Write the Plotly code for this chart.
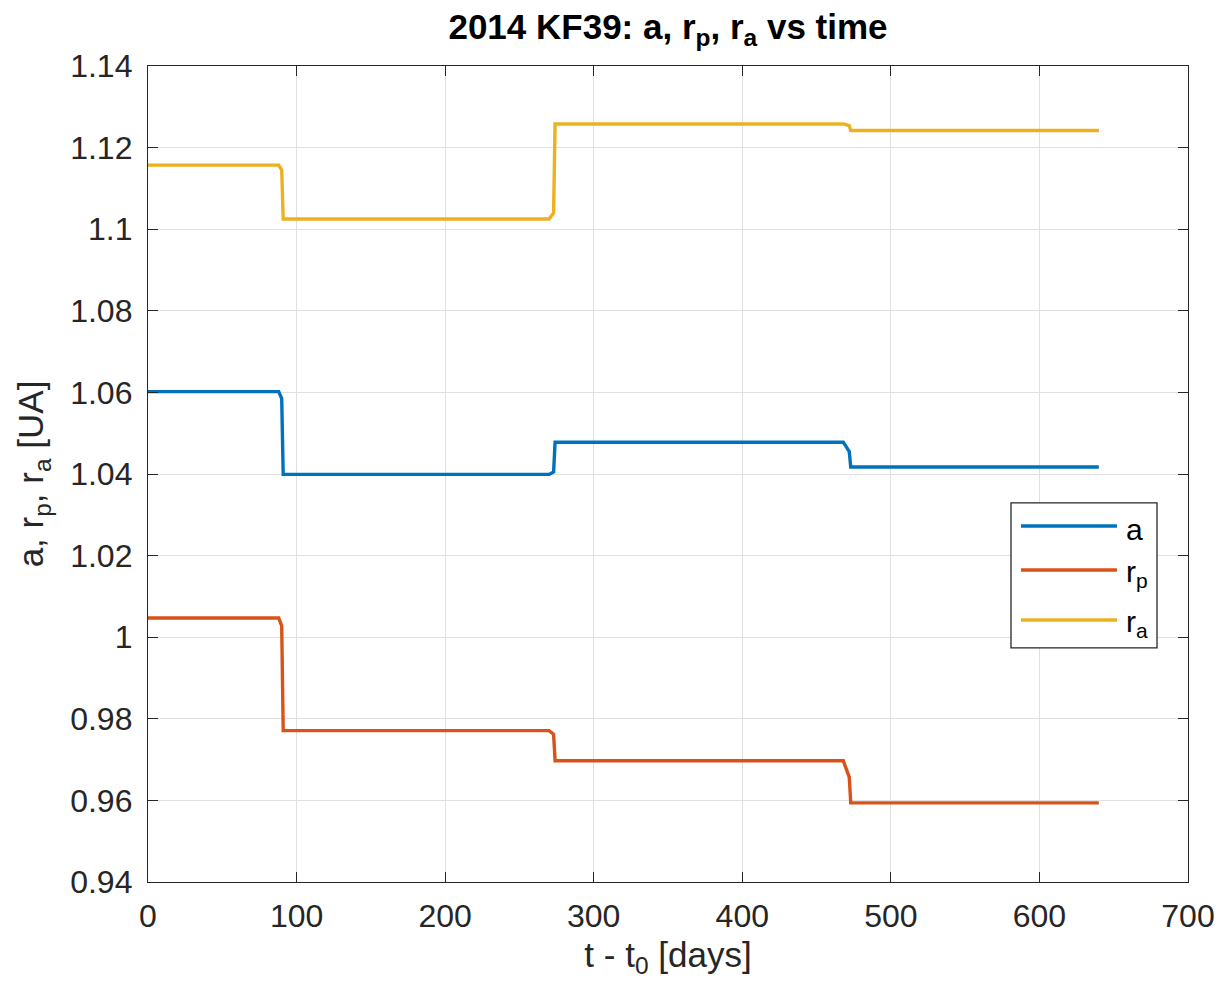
import plotly.graph_objects as go

# Orbital elements of 2014 KF39 over the propagation span
t_days = [0, 88, 90, 91, 270, 273, 274, 468, 472, 473, 640]
a_ua = [1.0602, 1.0602, 1.0585, 1.0399, 1.0399, 1.0405, 1.0478, 1.0478, 1.0455, 1.0417, 1.0417]
rp_ua = [1.0047, 1.0047, 1.0028, 0.9771, 0.9771, 0.9762, 0.9697, 0.9697, 0.9657, 0.9594, 0.9594]
ra_ua = [1.1157, 1.1157, 1.1145, 1.1025, 1.1025, 1.1040, 1.1258, 1.1258, 1.1254, 1.1242, 1.1242]

series_names = ["a", "r<sub>p</sub>", "r<sub>a</sub>"]
series_colors = ["#0072BD", "#D95319", "#EDB120"]

x_ticks = [0, 100, 200, 300, 400, 500, 600, 700]
y_ticks = [0.94, 0.96, 0.98, 1.0, 1.02, 1.04, 1.06, 1.08, 1.1, 1.12, 1.14]
y_tick_text = ["0.94", "0.96", "0.98", "1", "1.02", "1.04", "1.06", "1.08", "1.1", "1.12", "1.14"]

FONT = "Liberation Sans, Arial, Helvetica, sans-serif"
INK = "#262626"

fig = go.Figure()
for yvals, name, color in zip([a_ua, rp_ua, ra_ua], series_names, series_colors):
    fig.add_trace(go.Scatter(x=t_days, y=yvals, mode="lines", name=name,
                             line=dict(color=color, width=3.4), showlegend=False))

axis_common = dict(
    automargin=False,
    showline=True, linecolor=INK, linewidth=1.3, mirror="allticks",
    ticks="inside", ticklen=10, tickwidth=1.3, tickcolor=INK,
    showgrid=True, gridcolor="#e0e0e0", gridwidth=1, zeroline=False,
    tickfont=dict(family=FONT, size=32, color=INK),
)

fig.update_layout(
    width=1222, height=990,
    margin=dict(l=148, r=34, t=66, b=108),
    paper_bgcolor="white", plot_bgcolor="white",
    title=dict(text="<b>2014 KF39: a, r<sub>p</sub>, r<sub>a</sub> vs time</b>",
               x=(148 + 520) / 1222, xanchor="center", y=1 - 14 / 990, yanchor="top",
               font=dict(family=FONT, size=35, color="black")),
    xaxis=dict(range=[0, 700], tickvals=x_ticks, ticklabelstandoff=5,
               title=dict(text="t - t<sub>0</sub> [days]", standoff=9,
                          font=dict(family=FONT, size=35, color=INK)),
               **axis_common),
    yaxis=dict(range=[0.94, 1.14], tickvals=y_ticks, ticktext=y_tick_text, ticklabelstandoff=8,
               title=dict(text="a, r<sub>p</sub>, r<sub>a</sub> [UA]", standoff=15,
                          font=dict(family=FONT, size=35, color=INK)),
               **axis_common),
)

# Boxed legend in the lower right of the axes
box = dict(x0=0.8298, x1=0.9702, y0=0.2868, y1=0.4645)
fig.add_shape(type="rect", xref="paper", yref="paper", **box,
              line=dict(color=INK, width=1.3), fillcolor="white", layer="above")
legend_rows = [0.4363, 0.3824, 0.3211]
for name, color, yy in zip(series_names, series_colors, legend_rows):
    fig.add_shape(type="line", xref="paper", yref="paper", x0=0.8394, x1=0.9317, y0=yy, y1=yy,
                  line=dict(color=color, width=3.4), layer="above")
    fig.add_annotation(xref="paper", yref="paper", x=0.9385, y=yy, xanchor="left", yanchor="middle",
                       text=name, showarrow=False, yshift=-4,
                       font=dict(family=FONT, size=30, color="black"))

fig.write_html("out.html")
